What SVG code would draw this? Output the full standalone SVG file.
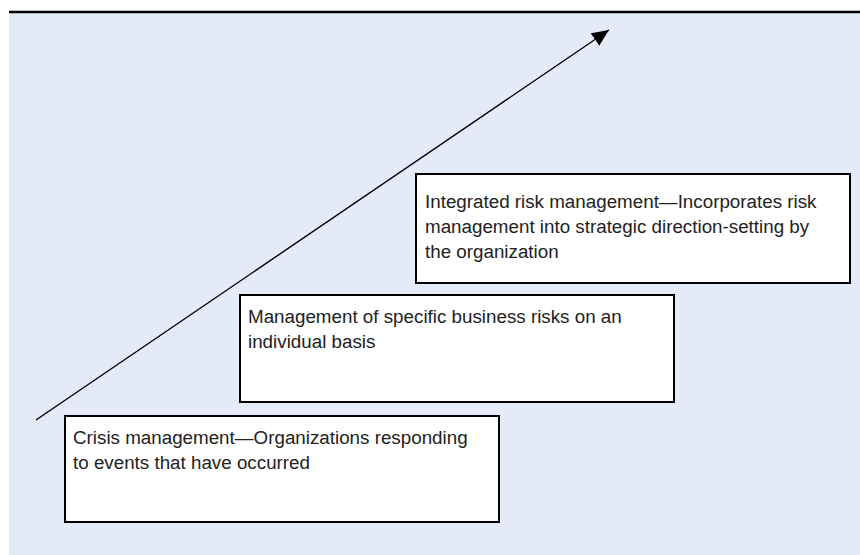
<svg xmlns="http://www.w3.org/2000/svg" width="860" height="555" viewBox="0 0 860 555">
  <defs>
    <marker id="arrowhead" markerUnits="userSpaceOnUse" markerWidth="20" markerHeight="16" refX="17" refY="7.5" orient="auto">
      <path d="M0,0 L17,7.5 L0,15 Z" fill="#000"/>
    </marker>
  </defs>
  <style>
    .stage { fill: #fff; stroke: #000; stroke-width: 2; }
    .label { font-family: "Liberation Sans", Arial, sans-serif; font-size: 18.8px; fill: #222; }
  </style>

  <!-- page background and top rule -->
  <rect x="0" y="0" width="860" height="555" fill="#fff"/>
  <rect x="9" y="13" width="851" height="542" fill="#e5eaf8"/>
  <line x1="9" y1="12" x2="860" y2="12" stroke="#000" stroke-width="2.5"/>

  <!-- connectors -->
  <g id="connectors">
    <line x1="36" y1="420" x2="609" y2="30" stroke="#000" stroke-width="1.4" marker-end="url(#arrowhead)"/>
  </g>

  <!-- stage 1 -->
  <g id="crisis-management">
    <rect class="stage" x="65" y="416" width="434" height="106"/>
    <text class="label" x="73" y="444">Crisis management—Organizations responding</text>
    <text class="label" x="73" y="469">to events that have occurred</text>
  </g>

  <!-- stage 2 -->
  <g id="specific-risks">
    <rect class="stage" x="240" y="295" width="434" height="107"/>
    <text class="label" x="248" y="323">Management of specific business risks on an</text>
    <text class="label" x="248" y="348">individual basis</text>
  </g>

  <!-- stage 3 -->
  <g id="integrated-risk">
    <rect class="stage" x="416" y="174" width="434" height="109"/>
    <text class="label" x="425" y="208">Integrated risk management—Incorporates risk</text>
    <text class="label" x="425" y="233">management into strategic direction-setting by</text>
    <text class="label" x="425" y="258">the organization</text>
  </g>
</svg>
